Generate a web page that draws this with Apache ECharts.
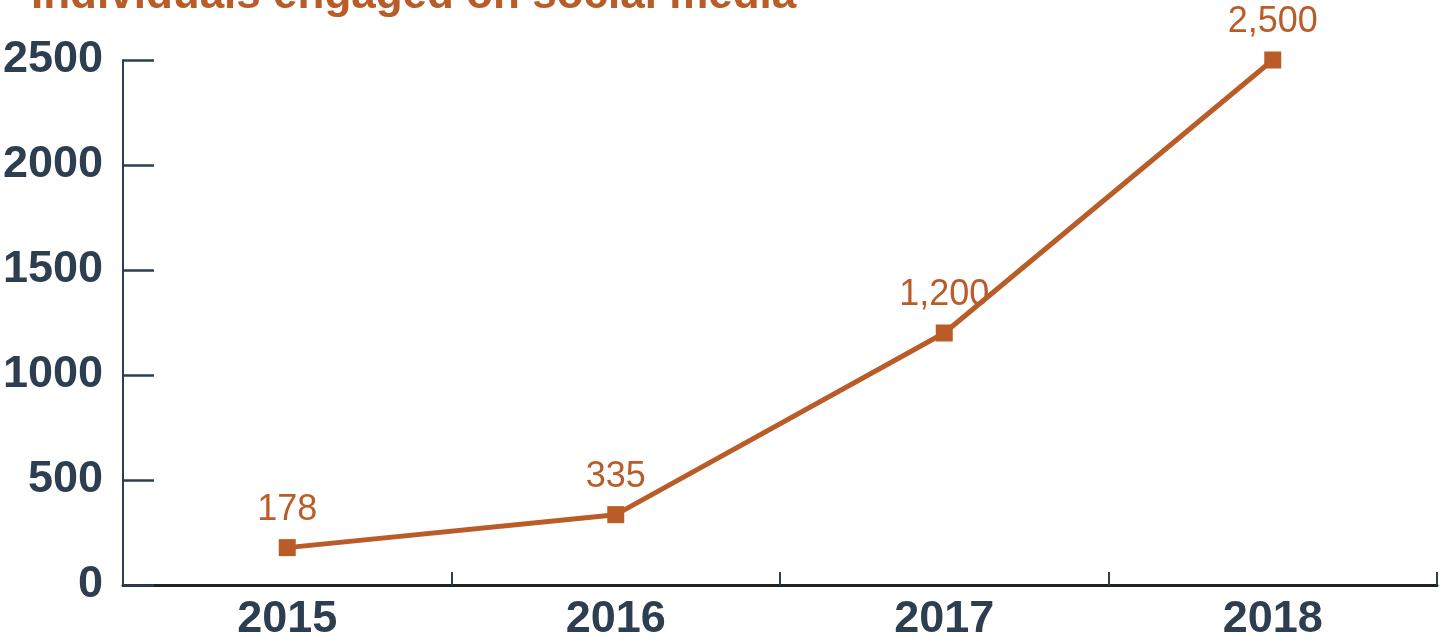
<!DOCTYPE html>
<html>
<head>
<meta charset="utf-8">
<script src="https://cdn.jsdelivr.net/npm/echarts@6/dist/echarts.min.js"></script>
<style>
html,body{margin:0;padding:0;background:#fff;}
#c{width:1448px;height:643px;}
</style>
</head>
<body>
<div id="c"></div>
<script>
var titleText = "Individuals engaged on social media";
var categories = ["2015", "2016", "2017", "2018"];
var values = [178, 335, 1200, 2500];
var yTicks = [0, 500, 1000, 1500, 2000, 2500];

var ORANGE = "#b95c28";
var DARK = "#2d3e50";
var FONT = "'Liberation Sans Narrow', 'Arial Narrow', 'Liberation Sans', sans-serif";

var chart = echarts.init(document.getElementById('c'), null, {renderer: 'canvas'});
chart.setOption({
  animation: false,
  title: {
    text: titleText,
    left: 26,
    top: -31,
    textStyle: {color: ORANGE, fontFamily: FONT, fontWeight: 'bold', fontSize: 44}
  },
  grid: {left: 123, right: 11, top: 60, bottom: 58, containLabel: false, outerBoundsMode: 'none'},
  xAxis: {
    type: 'category',
    data: categories,
    boundaryGap: true,
    axisLine: {lineStyle: {color: '#222', width: 3}},
    axisTick: {show: true, interval: 0, inside: true, length: 13, lineStyle: {color: DARK, width: 2}},
    axisLabel: {color: DARK, fontFamily: FONT, fontWeight: 'bold', fontSize: 45, margin: 12},
    splitLine: {show: false}
  },
  yAxis: {
    type: 'value',
    min: yTicks[0],
    max: yTicks[yTicks.length - 1],
    interval: yTicks[1] - yTicks[0],
    axisLine: {show: true, lineStyle: {color: DARK, width: 2}},
    axisTick: {show: true, inside: true, length: 31, lineStyle: {color: DARK, width: 2.5}},
    axisLabel: {
      color: DARK, fontFamily: FONT, fontWeight: 'bold', fontSize: 45, margin: 20,
      formatter: function (v) { return String(v); }
    },
    splitLine: {show: false}
  },
  series: [{
    type: 'line',
    data: values,
    symbol: 'rect',
    symbolSize: 17,
    lineStyle: {color: ORANGE, width: 5},
    itemStyle: {color: ORANGE},
    label: {
      show: true,
      position: 'top',
      distance: 11,
      color: ORANGE,
      fontFamily: FONT,
      fontSize: 36,
      formatter: function (p) { return Number(p.value).toLocaleString('en-US'); }
    }
  }]
});
</script>
</body>
</html>
